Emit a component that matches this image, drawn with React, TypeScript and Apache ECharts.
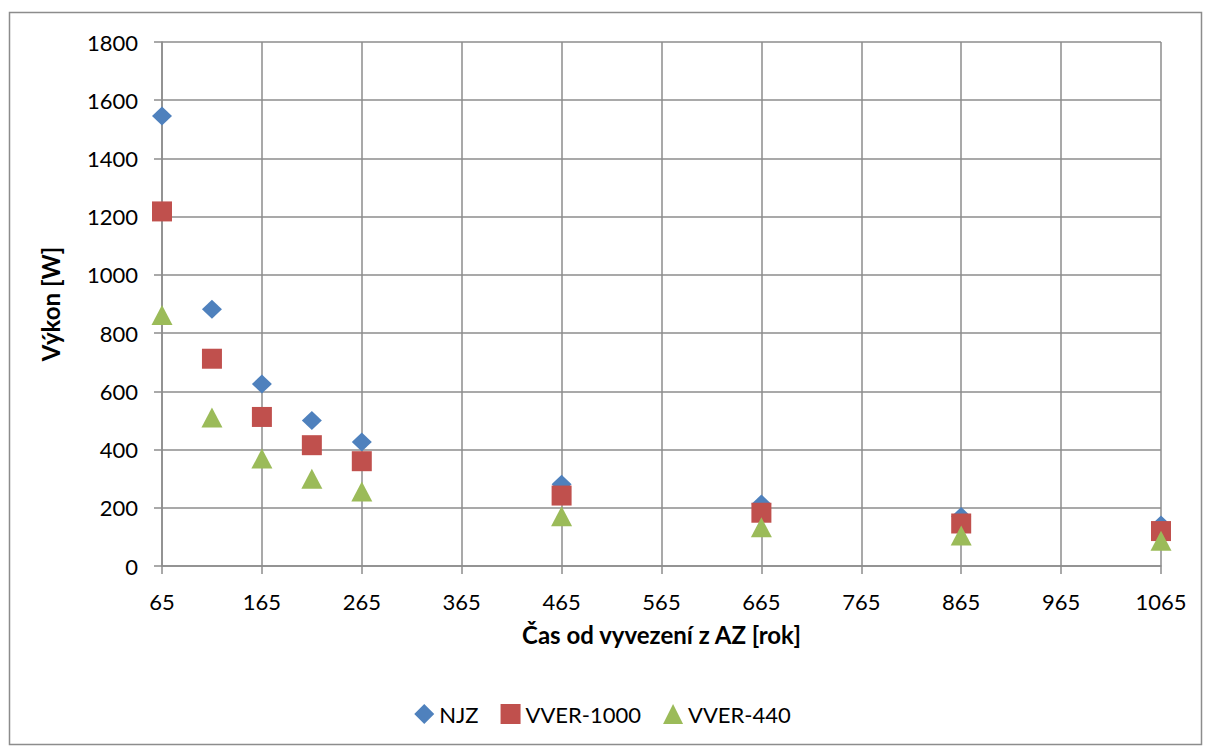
import React, { useEffect, useRef } from "react";
import * as echarts from "echarts";

const years = [65, 115, 165, 215, 265, 465, 665, 865, 1065];
const njz = [1546, 882, 625, 500, 426, 281, 213, 170, 141];
const vver1000 = [1218, 712, 512, 415, 360, 242, 183, 146, 120];
const vver440 = [862, 510, 369, 300, 256, 171, 133, 105, 87];
const seriesNames = ["NJZ", "VVER-1000", "VVER-440"];

const FONT = "Lato, 'Open Sans', sans-serif";

export default function App() {
  const ref = useRef<HTMLDivElement>(null);
  useEffect(() => {
    if (!ref.current) return;
    const chart = echarts.init(ref.current, undefined, { renderer: "svg" });
    const pts = (arr: number[]) => years.map((x, i) => [x, arr[i]]);
    const plain = (v: number) => String(v);
    chart.setOption({
      animation: false,
      backgroundColor: "#ffffff",
      textStyle: { fontFamily: FONT },
      graphic: [
        {
          type: "rect",
          shape: { x: 9.5, y: 12.5, width: 1192, height: 732 },
          style: { fill: "none", stroke: "#8c8c8c", lineWidth: 1.5 },
          silent: true,
        },
      ],
      grid: { left: 162, right: 44, top: 42, bottom: 181, containLabel: false },
      xAxis: {
        type: "value",
        min: 65,
        max: 1065,
        interval: 100,
        name: "Čas od vyvezení z AZ [rok]",
        nameLocation: "middle",
        nameGap: 56,
        nameTextStyle: { fontFamily: FONT, fontSize: 24, fontWeight: "bold", color: "#000" },
        axisLine: { show: true, lineStyle: { color: "#8c8c8c", width: 1.5 } },
        axisTick: { show: true, length: 8, lineStyle: { color: "#8c8c8c", width: 1.5 } },
        axisLabel: { fontFamily: FONT, fontSize: 22, color: "#000", margin: 24, formatter: plain },
        splitLine: { show: true, lineStyle: { color: "#8c8c8c", width: 1.5 } },
      },
      yAxis: {
        type: "value",
        min: 0,
        max: 1800,
        interval: 200,
        name: "Výkon [W]",
        nameLocation: "middle",
        nameGap: 100,
        nameRotate: 90,
        nameTextStyle: { fontFamily: FONT, fontSize: 24, fontWeight: "bold", color: "#000" },
        axisLine: { show: true, lineStyle: { color: "#8c8c8c", width: 1.5 } },
        axisTick: { show: true, length: 8, lineStyle: { color: "#8c8c8c", width: 1.5 } },
        axisLabel: { fontFamily: FONT, fontSize: 22, color: "#000", margin: 24, formatter: plain },
        splitLine: { show: true, lineStyle: { color: "#8c8c8c", width: 1.5 } },
      },
      legend: {
        bottom: 17,
        left: "center",
        itemGap: 22,
        itemWidth: 20,
        itemHeight: 20,
        textStyle: { fontFamily: FONT, fontSize: 22, color: "#000" },
        data: [
          { name: seriesNames[0], icon: "diamond" },
          { name: seriesNames[1], icon: "rect" },
          { name: seriesNames[2], icon: "triangle" },
        ],
      },
      series: [
        {
          name: seriesNames[0],
          type: "scatter",
          symbol: "diamond",
          symbolSize: [20, 19],
          itemStyle: { color: "#4F81BD", opacity: 1 },
          data: pts(njz),
          z: 2,
        },
        {
          name: seriesNames[1],
          type: "scatter",
          symbol: "rect",
          symbolSize: 20,
          itemStyle: { color: "#C0504D", opacity: 1 },
          data: pts(vver1000),
          z: 3,
        },
        {
          name: seriesNames[2],
          type: "scatter",
          symbol: "triangle",
          symbolSize: [21, 20],
          itemStyle: { color: "#9BBB59", opacity: 1 },
          data: pts(vver440),
          z: 4,
        },
      ],
    });
    return () => chart.dispose();
  }, []);
  return (
    <div
      ref={ref}
      style={{ position: "absolute", left: 0, top: 0, width: 1205, height: 747 }}
    />
  );
}
